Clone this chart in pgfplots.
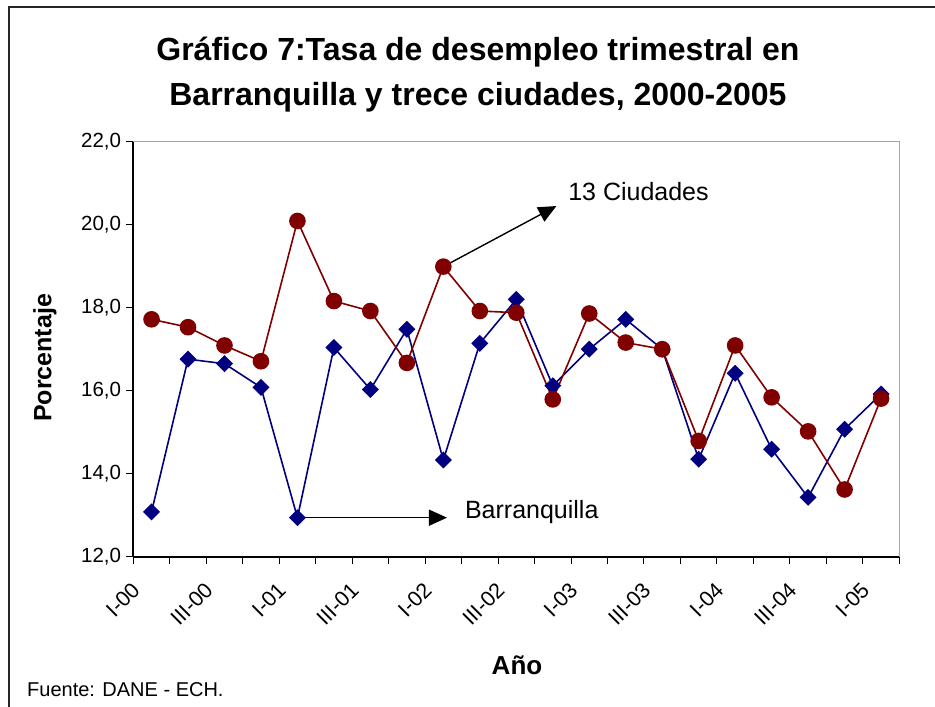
\documentclass[border=0pt]{standalone}
\usepackage{pgfplots}
\pgfplotsset{compat=1.18}
\usepackage{pgfplotstable}
\usepackage{fontspec}
\setmainfont{Liberation Sans}
\usetikzlibrary{arrows.meta}
\definecolor{mred}{HTML}{800000}
\definecolor{mblue}{HTML}{000080}
\pgfplotstableread{
i baq trece
0 13.08 17.72
1 16.76 17.53
2 16.65 17.09
3 16.08 16.71
4 12.94 20.09
5 17.04 18.16
6 16.03 17.92
7 17.48 16.67
8 14.33 18.99
9 17.14 17.92
10 18.20 17.88
11 16.12 15.79
12 17.00 17.86
13 17.72 17.16
14 17.00 17.00
15 14.35 14.79
16 16.42 17.09
17 14.59 15.84
18 13.43 15.02
19 15.07 13.62
20 15.92 15.81
}\datatable
\begin{document}
\begin{tikzpicture}[x=1pt,y=1pt]
\useasboundingbox (-133.3,-150.3) rectangle (801.7,556.7);
\draw[line width=1.8pt,black!85] (-124.3,-151) -- (-124.3,549.7) -- (802,549.7);
\begin{axis}[
  at={(0,0)}, anchor=south west,
  scale only axis, width=766pt, height=415pt,
  xmin=-0.5, xmax=20.5, ymin=12, ymax=22,
  xtick={0,2,...,20},
  xticklabels={I-00,III-00,I-01,III-01,I-02,III-02,I-03,III-03,I-04,III-04,I-05},
  major x tick style={draw=none},
  minor xtick={-0.5,0.5,...,20.5},
  ytick={12,14,...,22},
  tick pos=left,
  tick align=outside,
  major tick length=7pt, minor tick length=7pt,
  tick style={black, line width=1pt},
  axis line style={gray!70, line width=1.2pt},
  /pgf/number format/.cd, fixed, fixed zerofill, precision=1, use comma, assume math mode=true,
  /pgfplots/.cd,
  yticklabel style={font=\fontsize{20.5}{24}\selectfont, inner sep=5pt},
  xticklabel style={font=\fontsize{21.5}{24}\selectfont, xshift=-21pt, yshift=-16pt, rotate=45, anchor=north east, inner sep=1pt},
  clip=false,
]
\addplot[mblue, line width=1.6pt, mark=square*, mark size=5.2pt, mark options={solid, fill=mblue, rotate=45}] table[x=i, y=baq] {\datatable};
\addplot[mred, line width=1.6pt, mark=*, mark size=7.5pt, mark options={solid, fill=mred}] table[x=i, y=trece] {\datatable};
\draw[black, line width=1.6pt] (rel axis cs:0,0) -- (rel axis cs:0,1);
\draw[black, line width=1.6pt] (rel axis cs:0,0) -- (rel axis cs:1,0);
\draw[black, line width=1.4pt, -{Triangle[length=18pt,width=16pt]}] (axis cs:8,18.99) -- (axis cs:11.1,20.45);
\node[anchor=west, font=\fontsize{25}{30}\selectfont, inner sep=0pt] at (axis cs:11.42,20.79) {13 Ciudades};
\draw[black, line width=1.4pt, -{Triangle[length=18pt,width=16pt]}] (axis cs:4,12.94) -- (axis cs:8.1,12.94);
\node[anchor=west, font=\fontsize{25}{30}\selectfont, inner sep=0pt] at (axis cs:8.59,13.08) {Barranquilla};
\end{axis}
\node[font=\bfseries\fontsize{32}{45}\selectfont, align=center] at (344.7,482) {Gráfico 7:Tasa de desempleo trimestral en\\Barranquilla y trece ciudades, 2000-2005};
\node[font=\bfseries\fontsize{25}{30}\selectfont, rotate=90] at (-88.3,198.7) {Porcentaje};
\node[font=\bfseries\fontsize{26}{30}\selectfont] at (383.7,-108.3) {Año};
\node[anchor=west, font=\fontsize{20}{24}\selectfont, inner sep=0pt] at (-106.3,-133.3) {Fuente: DANE - ECH.};
\end{tikzpicture}
\end{document}
